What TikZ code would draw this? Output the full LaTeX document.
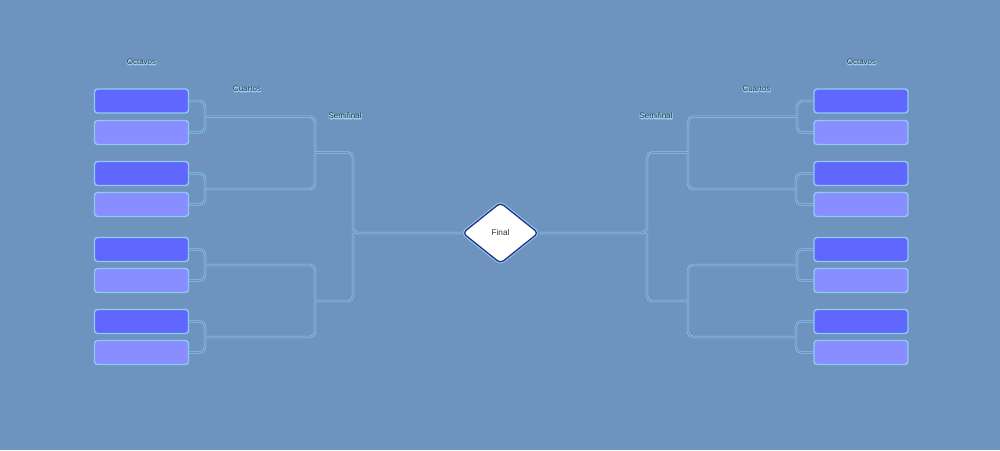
\documentclass[tikz,border=0pt]{standalone}
\usepackage{fontspec}
\setmainfont{Liberation Sans}
\usetikzlibrary{shapes.geometric}
\pgfdeclarelayer{bgfill}
\pgfdeclarelayer{links}
\pgfsetlayers{bgfill,links,main}
\definecolor{bg}{HTML}{6F93BF}
\definecolor{edgeblue}{HTML}{8CCBF2}
\definecolor{boxdark}{HTML}{6067FF}
\definecolor{boxlight}{HTML}{888DFF}
\definecolor{navy}{HTML}{27337F}
\definecolor{txt}{HTML}{26323F}
\newcommand\halotext[1]{\rlap{\special{pdf:bcolor [0.60 0.82 0.95]}\special{pdf:literal direct 1 Tr 1.3 w 1 j}#1\special{pdf:literal direct 0 Tr}\special{pdf:ecolor}}#1}
\tikzset{
  player/.style={draw=edgeblue, line width=1.4pt, rounded corners=3pt,
    minimum width=94pt, minimum height=24pt, inner sep=0pt},
  topbox/.style={player, fill=boxdark},
  botbox/.style={player, fill=boxlight},
  link/.style={draw=edgeblue, double=bg, line width=0.6pt, double distance=1.1pt, rounded corners=5pt},
  roundlabel/.style={text=txt, font=\fontsize{8}{9}\selectfont, inner sep=0pt},
  finalnode/.style={diamond, aspect=1.24, fill=white, draw=navy, line width=1.3pt,
    rounded corners=4pt, minimum width=76pt, minimum height=61pt, inner sep=0pt,
    preaction={draw=edgeblue, line width=3.4pt},
    font=\fontsize{8.3}{10}\selectfont, text=black!80}
}
\begin{document}
\begin{tikzpicture}[x=1pt,y=-1pt]
\begin{pgfonlayer}{bgfill}
\fill[bg] (0,0) rectangle (1000,450);
\end{pgfonlayer}
\useasboundingbox (0,0) rectangle (1000,450);

% final diamond
\node[finalnode] (fin) at (500.5,233) {Final};

% player boxes
\foreach \n/\y in {1/101,3/173.5,5/249.5,7/321.5}{
  \node[topbox] (L\n) at (141.5,\y) {};
  \node[topbox] (R\n) at (861,\y) {};
}
\foreach \n/\y in {2/132.5,4/204.5,6/280.5,8/352.5}{
  \node[botbox] (L\n) at (141.5,\y) {};
  \node[botbox] (R\n) at (861,\y) {};
}

% junction coordinates
\coordinate (lj1) at (205,116.75);
\coordinate (lj2) at (205,189);
\coordinate (lj3) at (205,265);
\coordinate (lj4) at (205,337);
\coordinate (lq1) at (315,152.5);
\coordinate (lq2) at (315,301);
\coordinate (lsf) at (353,233);
\coordinate (rj1) at (797,116.75);
\coordinate (rj2) at (796,189);
\coordinate (rj3) at (797,265);
\coordinate (rj4) at (796,337);
\coordinate (rq1) at (688,152.5);
\coordinate (rq2) at (688,301);
\coordinate (rsf) at (647,233);

\begin{pgfonlayer}{links}
\foreach \n in {1,2}{\draw[link] (L\n.east) -| (lj1); \draw[link] (R\n.west) -| (rj1);}
\foreach \n in {3,4}{\draw[link] (L\n.east) -| (lj2); \draw[link] (R\n.west) -| (rj2);}
\foreach \n in {5,6}{\draw[link] (L\n.east) -| (lj3); \draw[link] (R\n.west) -| (rj3);}
\foreach \n in {7,8}{\draw[link] (L\n.east) -| (lj4); \draw[link] (R\n.west) -| (rj4);}
\draw[link] (lj1) -| (lq1);
\draw[link] (lj2) -| (lq1);
\draw[link] (lj3) -| (lq2);
\draw[link] (lj4) -| (lq2);
\draw[link] (lq2) -| (lsf);
\draw[link] (lq1) -| (lsf) [sharp corners] -- (fin.west);
\draw[link] (rj1) -| (rq1);
\draw[link] (rj2) -| (rq1);
\draw[link] (rj3) -| (rq2);
\draw[link] (rj4) -| (rq2);
\draw[link] (rq2) -| (rsf);
\draw[link] (rq1) -| (rsf) [sharp corners] -- (fin.east);
\end{pgfonlayer}

% labels (last)
\node[roundlabel] (octL) at (141.5,62) {\halotext{Octavos}};
\node[roundlabel] (cuaL) at (247,89) {\halotext{Cuartos}};
\node[roundlabel] (semL) at (345,116) {\halotext{Semifinal}};
\node[roundlabel] (octR) at (861.5,62) {\halotext{Octavos}};
\node[roundlabel] (cuaR) at (756.5,89) {\halotext{Cuartos}};
\node[roundlabel] (semR) at (656,116) {\halotext{Semifinal}};
\end{tikzpicture}
\end{document}
